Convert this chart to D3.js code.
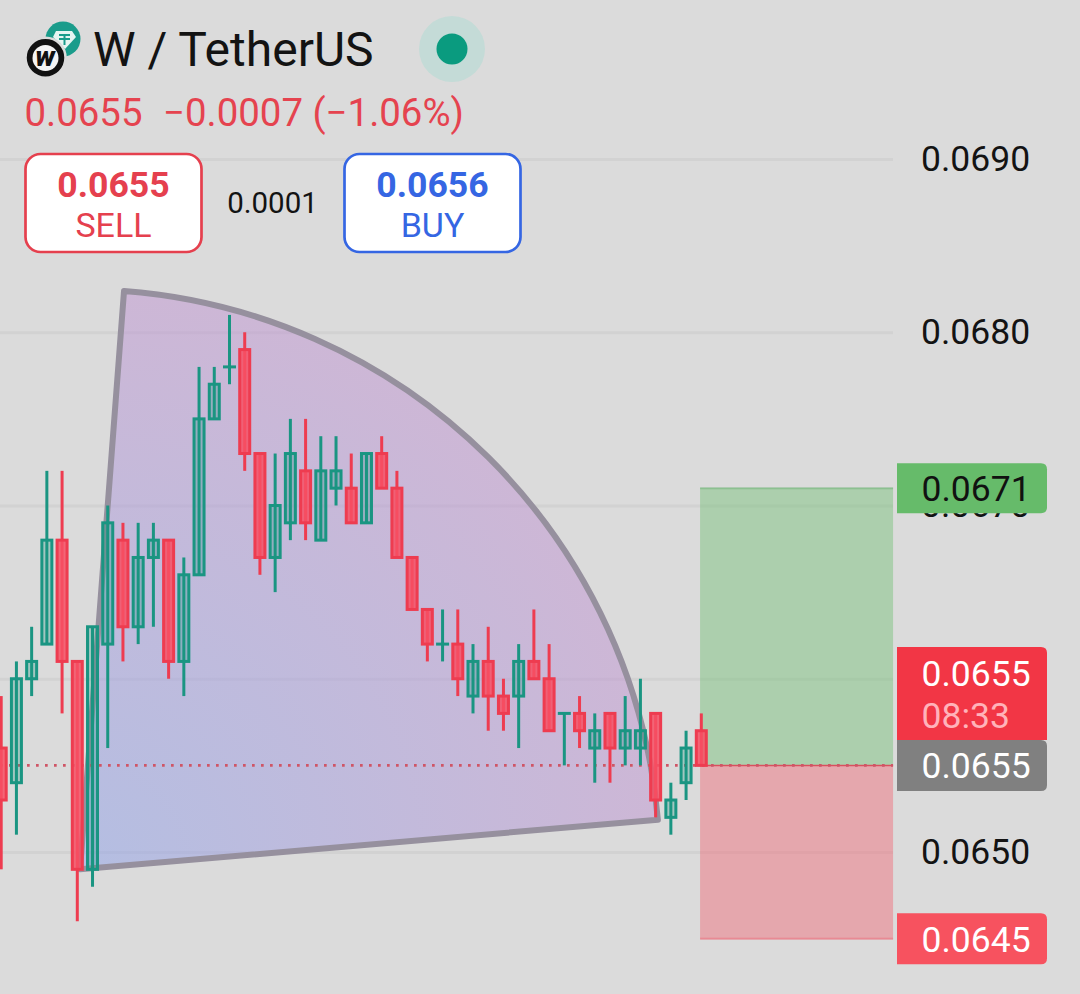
<!DOCTYPE html>
<html>
<head>
<meta charset="utf-8">
<title>W / TetherUS</title>
<script src="https://d3js.org/d3.v7.min.js"></script>
<style>
  html, body { margin: 0; padding: 0; background: #dbdbdb; }
  svg { display: block; }
  text { font-family: Roboto, sans-serif; }
</style>
</head>
<body>
<div id="chart"></div>
<script>
// candles (one tick = 0.0001)
var opens = [0.0656, 0.0654, 0.0660, 0.0662, 0.0668, 0.0661, 0.0649, 0.0662, 0.0668, 0.0663, 0.0667, 0.0668,
  0.0661, 0.0666, 0.0675, 0.0678, 0.0679, 0.0673, 0.0667, 0.0669, 0.0672, 0.0668, 0.0671, 0.0671,
  0.0669, 0.0673, 0.0671, 0.0667, 0.0664, 0.0662, 0.0662, 0.0659, 0.0661, 0.0659, 0.0659, 0.0661,
  0.0660, 0.0658, 0.0658, 0.0656, 0.0658, 0.0656, 0.0656, 0.0658, 0.0652, 0.0654, 0.0657];
var highs = [0.0659, 0.0661, 0.0663, 0.0672, 0.0672, 0.0661, 0.0663, 0.0670, 0.0669, 0.0669, 0.0669, 0.0668,
  0.0667, 0.0678, 0.0678, 0.0681, 0.0680, 0.0673, 0.0673, 0.0675, 0.0675, 0.0674, 0.0674, 0.0673,
  0.0673, 0.0674, 0.0672, 0.0667, 0.0664, 0.0664, 0.0664, 0.0662, 0.0663, 0.0660, 0.0662, 0.0664,
  0.0662, 0.0658, 0.0659, 0.0658, 0.0658, 0.0659, 0.0660, 0.0658, 0.0654, 0.0657, 0.0658];
var lows = [0.0649, 0.0651, 0.0659, 0.0662, 0.0658, 0.0646, 0.0648, 0.0656, 0.0661, 0.0662, 0.0663, 0.0660,
  0.0659, 0.0666, 0.0675, 0.0677, 0.0672, 0.0666, 0.0665, 0.0668, 0.0668, 0.0668, 0.0670, 0.0669,
  0.0669, 0.0671, 0.0667, 0.0664, 0.0661, 0.0661, 0.0659, 0.0658, 0.0657, 0.0657, 0.0656, 0.0660,
  0.0657, 0.0655, 0.0656, 0.0654, 0.0654, 0.0655, 0.0655, 0.0652, 0.0651, 0.0653, 0.0655];
var closes = [0.0653, 0.0660, 0.0661, 0.0668, 0.0661, 0.0649, 0.0663, 0.0669, 0.0663, 0.0667, 0.0668, 0.0661,
  0.0666, 0.0675, 0.0677, 0.0678, 0.0673, 0.0667, 0.0670, 0.0673, 0.0669, 0.0672, 0.0672, 0.0669,
  0.0673, 0.0671, 0.0667, 0.0664, 0.0662, 0.0662, 0.0660, 0.0661, 0.0659, 0.0658, 0.0661, 0.0660,
  0.0657, 0.0658, 0.0657, 0.0657, 0.0656, 0.0657, 0.0657, 0.0653, 0.0653, 0.0656, 0.0655];

var priceTicks = [0.0690, 0.0680, 0.0670, 0.0660, 0.0650];
var lastPrice = 0.0655;
var targetPrice = 0.0671;
var stopPrice = 0.0645;

// drawing tool anchors: [candle index, price]
var fanApex = [5.18, 0.06490];
var fanStart = [8.07, 0.068238];
var fanEnd = [42.96, 0.065185];
var boxFrom = 45.92;
var boxTo = 58.6;

var width = 1080, height = 994;
var green = '#1a9582', red = '#ee3c50', bg = '#dbdbdb';

var x = d3.scaleLinear().domain([0, opens.length - 1]).range([1.2, 701.3]);
var y = d3.scaleLinear().domain([0.0650, 0.0690]).range([852, 159]);

var svg = d3.select('#chart').append('svg')
  .attr('width', width)
  .attr('height', height);

svg.append('rect').attr('width', width).attr('height', height).attr('fill', bg);

var defs = svg.append('defs');

_drawGrid();
_drawBox();
_drawFan();
_drawLastLine();
_drawCandles();
_drawTags();
_drawHeader();

function _drawGrid() {
  var axis = d3.axisRight(y)
    .tickValues(priceTicks)
    .tickSize(893)
    .tickPadding(28)
    .tickFormat(d3.format('.4f'));

  var g = svg.append('g').attr('class', 'price-axis').call(axis);
  g.select('.domain').remove();
  g.selectAll('line').attr('stroke', '#d2d2d2').attr('stroke-width', 3);
  g.selectAll('text')
    .attr('fill', '#131313')
    .attr('font-size', 35.5)
    .attr('font-family', 'Roboto, sans-serif');
}

function _drawBox() {
  var x0 = x(boxFrom), x1 = x(boxTo);

  svg.append('rect')
    .attr('x', x0).attr('width', x1 - x0)
    .attr('y', y(targetPrice)).attr('height', y(lastPrice) - y(targetPrice))
    .attr('fill', 'rgba(115,192,117,0.45)');
  svg.append('rect')
    .attr('x', x0).attr('width', x1 - x0)
    .attr('y', y(lastPrice)).attr('height', y(stopPrice) - y(lastPrice))
    .attr('fill', 'rgba(246,91,104,0.4)');

  // thin edges on the target and stop
  [[targetPrice, 'rgba(90,170,100,0.45)'], [stopPrice, 'rgba(240,90,105,0.5)']].forEach(function (d) {
    svg.append('line')
      .attr('x1', x0).attr('x2', x1)
      .attr('y1', y(d[0])).attr('y2', y(d[0]))
      .attr('stroke', d[1]).attr('stroke-width', 2);
  });
  svg.append('line')
    .attr('x1', x0).attr('x2', x1)
    .attr('y1', y(lastPrice)).attr('y2', y(lastPrice))
    .attr('stroke', '#d9505e').attr('stroke-width', 1.5);
}

function _drawFan() {
  var ax = x(fanApex[0]), ay = y(fanApex[1]),
      sx = x(fanStart[0]) - ax, sy = y(fanStart[1]) - ay,
      ex = x(fanEnd[0]) - ax, ey = y(fanEnd[1]) - ay,
      r = Math.sqrt(sx * sx + sy * sy);

  var grad = defs.append('radialGradient')
    .attr('id', 'fan-fill')
    .attr('gradientUnits', 'userSpaceOnUse')
    .attr('cx', 0).attr('cy', 0).attr('r', r);
  grad.append('stop').attr('offset', '0%').attr('stop-color', 'rgb(141,161,233)').attr('stop-opacity', 0.5);
  grad.append('stop').attr('offset', '100%').attr('stop-color', 'rgb(191,147,209)').attr('stop-opacity', 0.5);

  var arc = d3.arc()
    .innerRadius(0)
    .outerRadius(r)
    .startAngle(Math.atan2(sx, -sy))
    .endAngle(Math.atan2(ex, -ey));

  svg.append('path')
    .attr('transform', 'translate(' + ax + ',' + ay + ')')
    .attr('d', arc())
    .attr('fill', 'url(#fan-fill)')
    .attr('stroke', '#96909e')
    .attr('stroke-width', 6)
    .attr('stroke-linejoin', 'round');
}

function _drawLastLine() {
  svg.append('line')
    .attr('x1', 0).attr('x2', x(boxTo))
    .attr('y1', y(lastPrice)).attr('y2', y(lastPrice))
    .attr('stroke', '#cf5566')
    .attr('stroke-width', 2.7)
    .attr('stroke-dasharray', '2.7 6.3');
}

function _drawCandles() {
  var candles = svg.selectAll('.candle')
    .data(opens.map(function (o, i) {
      return { i: i, o: o, h: highs[i], l: lows[i], c: closes[i], up: closes[i] >= o };
    }))
    .enter()
    .append('g')
    .attr('class', 'candle');

  candles.append('line')
    .attr('x1', function (d) { return x(d.i); })
    .attr('x2', function (d) { return x(d.i); })
    .attr('y1', function (d) { return y(d.h); })
    .attr('y2', function (d) { return y(d.l); })
    .attr('stroke', function (d) { return d.up ? green : red; })
    .attr('stroke-width', 3);

  candles.filter(function (d) { return d.o !== d.c; })
    .append('rect')
    .attr('x', function (d) { return x(d.i) - 5; })
    .attr('width', 10)
    .attr('y', function (d) { return y(Math.max(d.o, d.c)); })
    .attr('height', function (d) { return Math.abs(y(d.o) - y(d.c)); })
    .attr('fill', function (d) { return d.up ? 'rgba(26,149,130,0.3)' : 'rgba(247,80,100,0.85)'; })
    .attr('stroke', function (d) { return d.up ? green : red; })
    .attr('stroke-width', 3);

  // open == close: a zero height rect draws nothing, use a flat bar
  candles.filter(function (d) { return d.o === d.c; })
    .append('line')
    .attr('x1', function (d) { return x(d.i) - 6.5; })
    .attr('x2', function (d) { return x(d.i) + 6.5; })
    .attr('y1', function (d) { return y(d.o); })
    .attr('y2', function (d) { return y(d.o); })
    .attr('stroke', green)
    .attr('stroke-width', 3);
}

function _tag(price, h, color, rx) {
  var top = y(price) - h / 2;
  svg.append('path')
    .attr('d', 'M897,' + top + 'H' + (1047 - rx) + 'Q1047,' + top + ' 1047,' + (top + rx) +
      'V' + (top + h - rx) + 'Q1047,' + (top + h) + ' ' + (1047 - rx) + ',' + (top + h) + 'H897Z')
    .attr('fill', color);
}

function _label(text, px, py, size, color, anchor, weight) {
  return svg.append('text')
    .attr('x', px).attr('y', py)
    .attr('font-size', size)
    .attr('fill', color)
    .attr('text-anchor', anchor || 'start')
    .attr('font-weight', weight || 400)
    .text(text);
}

function _drawTags() {
  _tag(targetPrice, 50, '#66bb6a', 6);
  _label(d3.format('.4f')(targetPrice), 921.5, y(targetPrice) + 13, 35.5, '#111');

  // countdown tag sits above the price tag
  svg.append('path')
    .attr('d', 'M897,647H1041Q1047,647 1047,653V740H897Z')
    .attr('fill', '#f23645');
  _label('0.0655', 921.5, 686, 35.5, '#fff');
  _label('08:33', 921.5, 728, 35.5, '#ffb3ba');

  _tag(lastPrice, 51, '#808080', 6);
  _label(d3.format('.4f')(lastPrice), 921.5, y(lastPrice) + 13, 35.5, '#fff');

  _tag(stopPrice, 51, '#f7525f', 6);
  _label(d3.format('.4f')(stopPrice), 921.5, y(stopPrice) + 13, 35.5, '#fff');
}

function _drawHeader() {
  // pair icons
  svg.append('circle').attr('cx', 63).attr('cy', 39).attr('r', 17.5).attr('fill', '#1a9c8b');
  svg.append('path')
    .attr('d', 'M56,31H72L76,37L65,49L53,37Z')
    .attr('fill', '#e6f5f2');
  svg.append('path')
    .attr('d', 'M59,35H70M64.5,35V45M59,39H70')
    .attr('stroke', '#1a9c8b').attr('stroke-width', 2).attr('fill', 'none');
  svg.append('circle').attr('cx', 45.5).attr('cy', 57.7).attr('r', 20)
    .attr('fill', '#111').attr('stroke', bg).attr('stroke-width', 2.5);
  svg.append('circle').attr('cx', 45.5).attr('cy', 58).attr('r', 13).attr('fill', '#f4f4f4');
  _label('w', 45, 66, 28, '#111', 'middle', 900).attr('font-style', 'italic');

  _label('W / TetherUS', 93, 66, 48, '#131313');

  svg.append('circle').attr('cx', 452).attr('cy', 49).attr('r', 33).attr('fill', '#c4dbd7');
  svg.append('circle').attr('cx', 452).attr('cy', 49).attr('r', 15.5).attr('fill', '#0a9b7f');

  _label('0.0655', 24.5, 126, 38.4, '#e5434f');
  _label('\u22120.0007 (\u22121.06%)', 163, 126, 38.4, '#e5434f');

  _button(25.5, 176, '#e5404e', '0.0655', 'SELL');
  _button(344.5, 176, '#3566e3', '0.0656', 'BUY');
  _label('0.0001', 272.5, 213, 29.5, '#131313', 'middle');
}

function _button(left, w, color, price, name) {
  svg.append('rect')
    .attr('x', left).attr('y', 154)
    .attr('width', w).attr('height', 98)
    .attr('rx', 15)
    .attr('fill', '#fff')
    .attr('stroke', color)
    .attr('stroke-width', 2.7);
  _label(price, left + w / 2, 197, 35.6, color, 'middle', 700);
  _label(name, left + w / 2, 237, 34, color, 'middle');
}
</script>
</body>
</html>
